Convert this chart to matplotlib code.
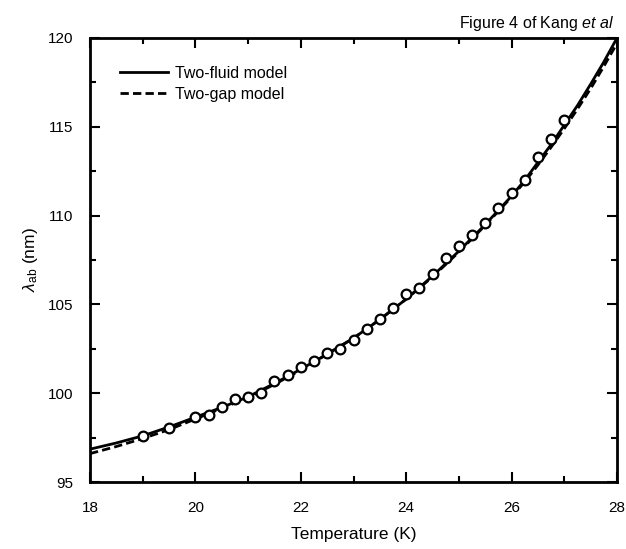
import matplotlib
matplotlib.use("Agg")
import matplotlib.pyplot as plt
from matplotlib.ticker import MultipleLocator

plt.rcParams['font.family'] = ['Liberation Sans', 'DejaVu Sans']
plt.rcParams['mathtext.fontset'] = 'custom'
plt.rcParams['mathtext.rm'] = 'Liberation Sans'
plt.rcParams['mathtext.it'] = 'Liberation Sans:italic'

# Measured data (open circles)
T_data = [19.0, 19.5, 20.0, 20.25, 20.5, 20.75, 21.0, 21.25, 21.5, 21.75,
          22.0, 22.25, 22.5, 22.75, 23.0, 23.25, 23.5, 23.75, 24.0, 24.25,
          24.5, 24.75, 25.0, 25.25, 25.5, 25.75, 26.0, 26.25, 26.5, 26.75, 27.0]
lam_data = [97.6, 98.05, 98.65, 98.75, 99.2, 99.65, 99.8, 100.0, 100.7, 101.0,
            101.45, 101.8, 102.25, 102.5, 103.0, 103.6, 104.2, 104.8, 105.6, 105.9,
            106.7, 107.6, 108.3, 108.9, 109.6, 110.4, 111.3, 112.0, 113.3, 114.3, 115.4]

# Model curves
T_model = [18.0, 18.5, 19.0, 19.5, 20.0, 20.5, 21.0, 21.5, 22.0, 22.5, 23.0,
           23.5, 24.0, 24.5, 25.0, 25.5, 26.0, 26.25, 26.5, 26.75, 27.0,
           27.25, 27.5, 27.75, 28.0]
lam_two_fluid = [96.85, 97.2, 97.6, 98.1, 98.65, 99.2, 99.8, 100.55, 101.35, 102.2, 103.1,
                 104.15, 105.3, 106.6, 108.0, 109.5, 111.1, 112.0, 113.0, 114.0, 115.1,
                 116.2, 117.4, 118.65, 120.0]
lam_two_gap = [96.6, 97.0, 97.45, 97.95, 98.55, 99.15, 99.75, 100.5, 101.3, 102.2, 103.1,
               104.15, 105.3, 106.55, 107.95, 109.45, 111.05, 111.9, 112.85, 113.85, 114.9,
               116.0, 117.15, 118.4, 119.7]

fig = plt.figure(figsize=(6.26, 5.49), dpi=100)
ax = fig.add_axes([0.1438, 0.122, 0.8418, 0.8088])

ax.plot(T_model, lam_two_fluid, color='black', lw=2.0, ls='-', label='Two-fluid model', zorder=3)
ax.plot(T_model, lam_two_gap, color='black', lw=2.0, ls=(0, (3, 1.5)), label='Two-gap model', zorder=3)
ax.plot(T_data, lam_data, ls='none', marker='o', ms=7, mfc='white', mec='black', mew=1.6, zorder=4)

ax.set_xlim(18, 28)
ax.set_ylim(95, 120)
ax.xaxis.set_major_locator(MultipleLocator(2))
ax.xaxis.set_minor_locator(MultipleLocator(1))
ax.yaxis.set_major_locator(MultipleLocator(5))
ax.yaxis.set_minor_locator(MultipleLocator(2.5))
ax.tick_params(which='both', direction='in', top=True, right=True, width=1.5, labelsize=11)
ax.tick_params(which='major', length=7)
ax.tick_params(which='minor', length=4)
ax.tick_params(axis='x', which='major', pad=14)
ax.tick_params(axis='y', which='major', pad=12)
for s in ax.spines.values():
    s.set_linewidth(2.0)

ax.set_xlabel('Temperature (K)', fontsize=12.5, labelpad=8)
ax.set_ylabel(r'$\mathit{\lambda}_{\mathrm{ab}}$ (nm)', fontsize=12.5, labelpad=6)

leg = ax.legend(loc='upper left', bbox_to_anchor=(0.03, 0.97), frameon=False, fontsize=11.5,
                handlelength=3.0, handletextpad=0.4, labelspacing=0.4)

fig.text(0.982, 0.975, r'Figure 4 of Kang $\mathit{et\ al}$', ha='right', va='top', fontsize=11.5)

fig.savefig('out.png', dpi=100)
